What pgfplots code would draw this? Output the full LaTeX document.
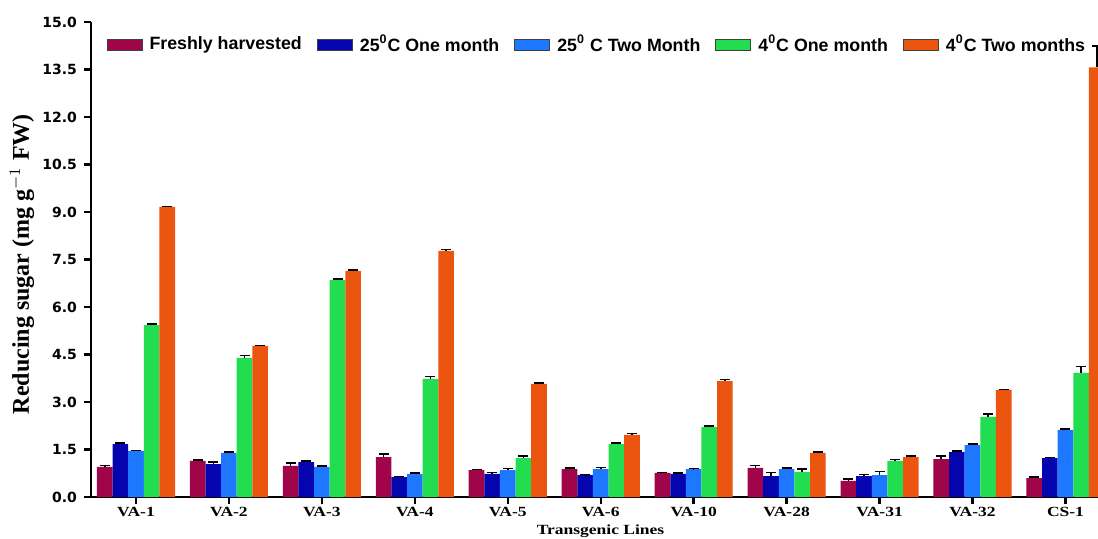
\documentclass[border=0pt]{standalone}
\usepackage{fontspec}
\setmainfont{Liberation Serif}
\newfontfamily\legfont{Liberation Sans}
\newfontfamily\tickfont{DejaVu Sans}
\newfontfamily\xfont{Liberation Serif}[FakeStretch=1.25]
\usepackage{pgfplots}
\pgfplotsset{compat=1.18}
\definecolor{cF}{RGB}{160,5,74}
\definecolor{cO}{RGB}{5,5,175}
\definecolor{cT}{RGB}{30,120,255}
\definecolor{cG}{RGB}{34,221,80}
\definecolor{cR}{RGB}{236,85,16}
\pgfplotsset{
  mybar/.style={fill=#1, draw=none,
    legend image code/.code={\draw[fill=#1,draw=black!75,line width=0.5pt] (0pt,-2.75pt) rectangle (17.5pt,2.75pt);}},
}
\begin{document}
\begin{tikzpicture}
\useasboundingbox (-45.5pt,-20.5pt) rectangle (503.5pt,248.5pt);
\begin{axis}[
  at={(0pt,0pt)}, anchor=south west, scale only axis,
  width=503.5pt, height=237.5pt,
  xmin=-0.484, xmax=10.35, ymin=0, ymax=15,
  ybar, bar width=0.168,
  axis x line*=bottom, axis y line*=left,
  axis line style={-, line width=1.2pt},
  tick style={line width=1.2pt, black},
  tick align=outside, major tick length=3.5pt,
  xtick={0,1,2,3,4,5,6,7,8,9,10},
  xticklabels={VA-1,VA-2,VA-3,VA-4,VA-5,VA-6,VA-10,VA-28,VA-31,VA-32,CS-1},
  ytick={0,1.5,3,4.5,6,7.5,9,10.5,12,13.5,15},
  /pgf/number format/assume math mode=true,
  yticklabel style={/pgf/number format/.cd, fixed, fixed zerofill, precision=1, /tikz/.cd, font=\tickfont\bfseries\fontsize{7}{8}\selectfont},
  xticklabel style={font=\xfont\bfseries\fontsize{7}{8}\selectfont, yshift=1.8pt},
  xlabel={Transgenic Lines},
  xlabel style={at={(axis description cs:0.506,0)}, anchor=center, yshift=-17.2pt, font=\xfont\bfseries\fontsize{7}{8}\selectfont},
  ylabel={Reducing sugar (mg g$^{-1}$ FW)},
  ylabel style={at={(axis description cs:-0.0685,0.49)}, anchor=center, font=\bfseries\fontsize{12}{14}\selectfont},
  legend columns=5,
  legend style={draw=none, fill=none, inner sep=0pt, at={(0.015,0.952)}, anchor=west, font=\legfont\bfseries\fontsize{8.9}{10}\selectfont,
    /tikz/every odd column/.append style={column sep=1.5pt},
    /tikz/every even column/.append style={column sep=5.5pt}},
  legend cell align=left,
  error bars/error bar style={black, line width=0.8pt},
  error bars/error mark options={rotate=90, black, mark size=2.5pt, line width=0.8pt},
]
\addplot[mybar=cF, bar shift=-0.336, error bars/.cd, y dir=plus, y explicit] coordinates {
(0,0.95) +- (0,0.05) (1,1.14) +- (0,0.03) (2,0.98) +- (0,0.10) (3,1.26) +- (0,0.10)
(4,0.85) +- (0,0.02) (5,0.88) +- (0,0.04) (6,0.76) +- (0,0.02) (7,0.92) +- (0,0.08)
(8,0.51) +- (0,0.06) (9,1.20) +- (0,0.10) (10,0.60) +- (0,0.03)};
\addplot[mybar=cO, bar shift=-0.168, error bars/.cd, y dir=plus, y explicit] coordinates {
(0,1.67) +- (0,0.03) (1,1.04) +- (0,0.06) (2,1.10) +- (0,0.03) (3,0.63) +- (0,0.02)
(4,0.73) +- (0,0.05) (5,0.69) +- (0,0.02) (6,0.73) +- (0,0.02) (7,0.66) +- (0,0.12)
(8,0.66) +- (0,0.05) (9,1.42) +- (0,0.03) (10,1.23) +- (0,0.02)};
\addplot[mybar=cT, bar shift=0, error bars/.cd, y dir=plus, y explicit] coordinates {
(0,1.45) +- (0,0.02) (1,1.39) +- (0,0.03) (2,0.95) +- (0,0.02) (3,0.73) +- (0,0.03)
(4,0.85) +- (0,0.05) (5,0.88) +- (0,0.05) (6,0.88) +- (0,0.02) (7,0.88) +- (0,0.04)
(8,0.69) +- (0,0.11) (9,1.64) +- (0,0.04) (10,2.12) +- (0,0.02)};
\addplot[mybar=cG, bar shift=0.168, error bars/.cd, y dir=plus, y explicit] coordinates {
(0,5.43) +- (0,0.03) (1,4.39) +- (0,0.08) (2,6.85) +- (0,0.03) (3,3.73) +- (0,0.08)
(4,1.23) +- (0,0.06) (5,1.67) +- (0,0.03) (6,2.21) +- (0,0.04) (7,0.79) +- (0,0.09)
(8,1.14) +- (0,0.04) (9,2.53) +- (0,0.10) (10,3.92) +- (0,0.20)};
\addplot[mybar=cR, bar shift=0.336, error bars/.cd, y dir=plus, y explicit] coordinates {
(0,9.16) +- (0,0.02) (1,4.77) +- (0,0.02) (2,7.14) +- (0,0.03) (3,7.77) +- (0,0.04)
(4,3.57) +- (0,0.03) (5,1.96) +- (0,0.05) (6,3.66) +- (0,0.05) (7,1.39) +- (0,0.03)
(8,1.26) +- (0,0.04) (9,3.38) +- (0,0.02) (10,13.57) +- (0,0.68)};
\legend{Freshly harvested, 25\textsuperscript{0}C One month, 25\textsuperscript{0} C Two Month, 4\textsuperscript{0}C One month, 4\textsuperscript{0}C Two months}
\end{axis}
\end{tikzpicture}
\end{document}
